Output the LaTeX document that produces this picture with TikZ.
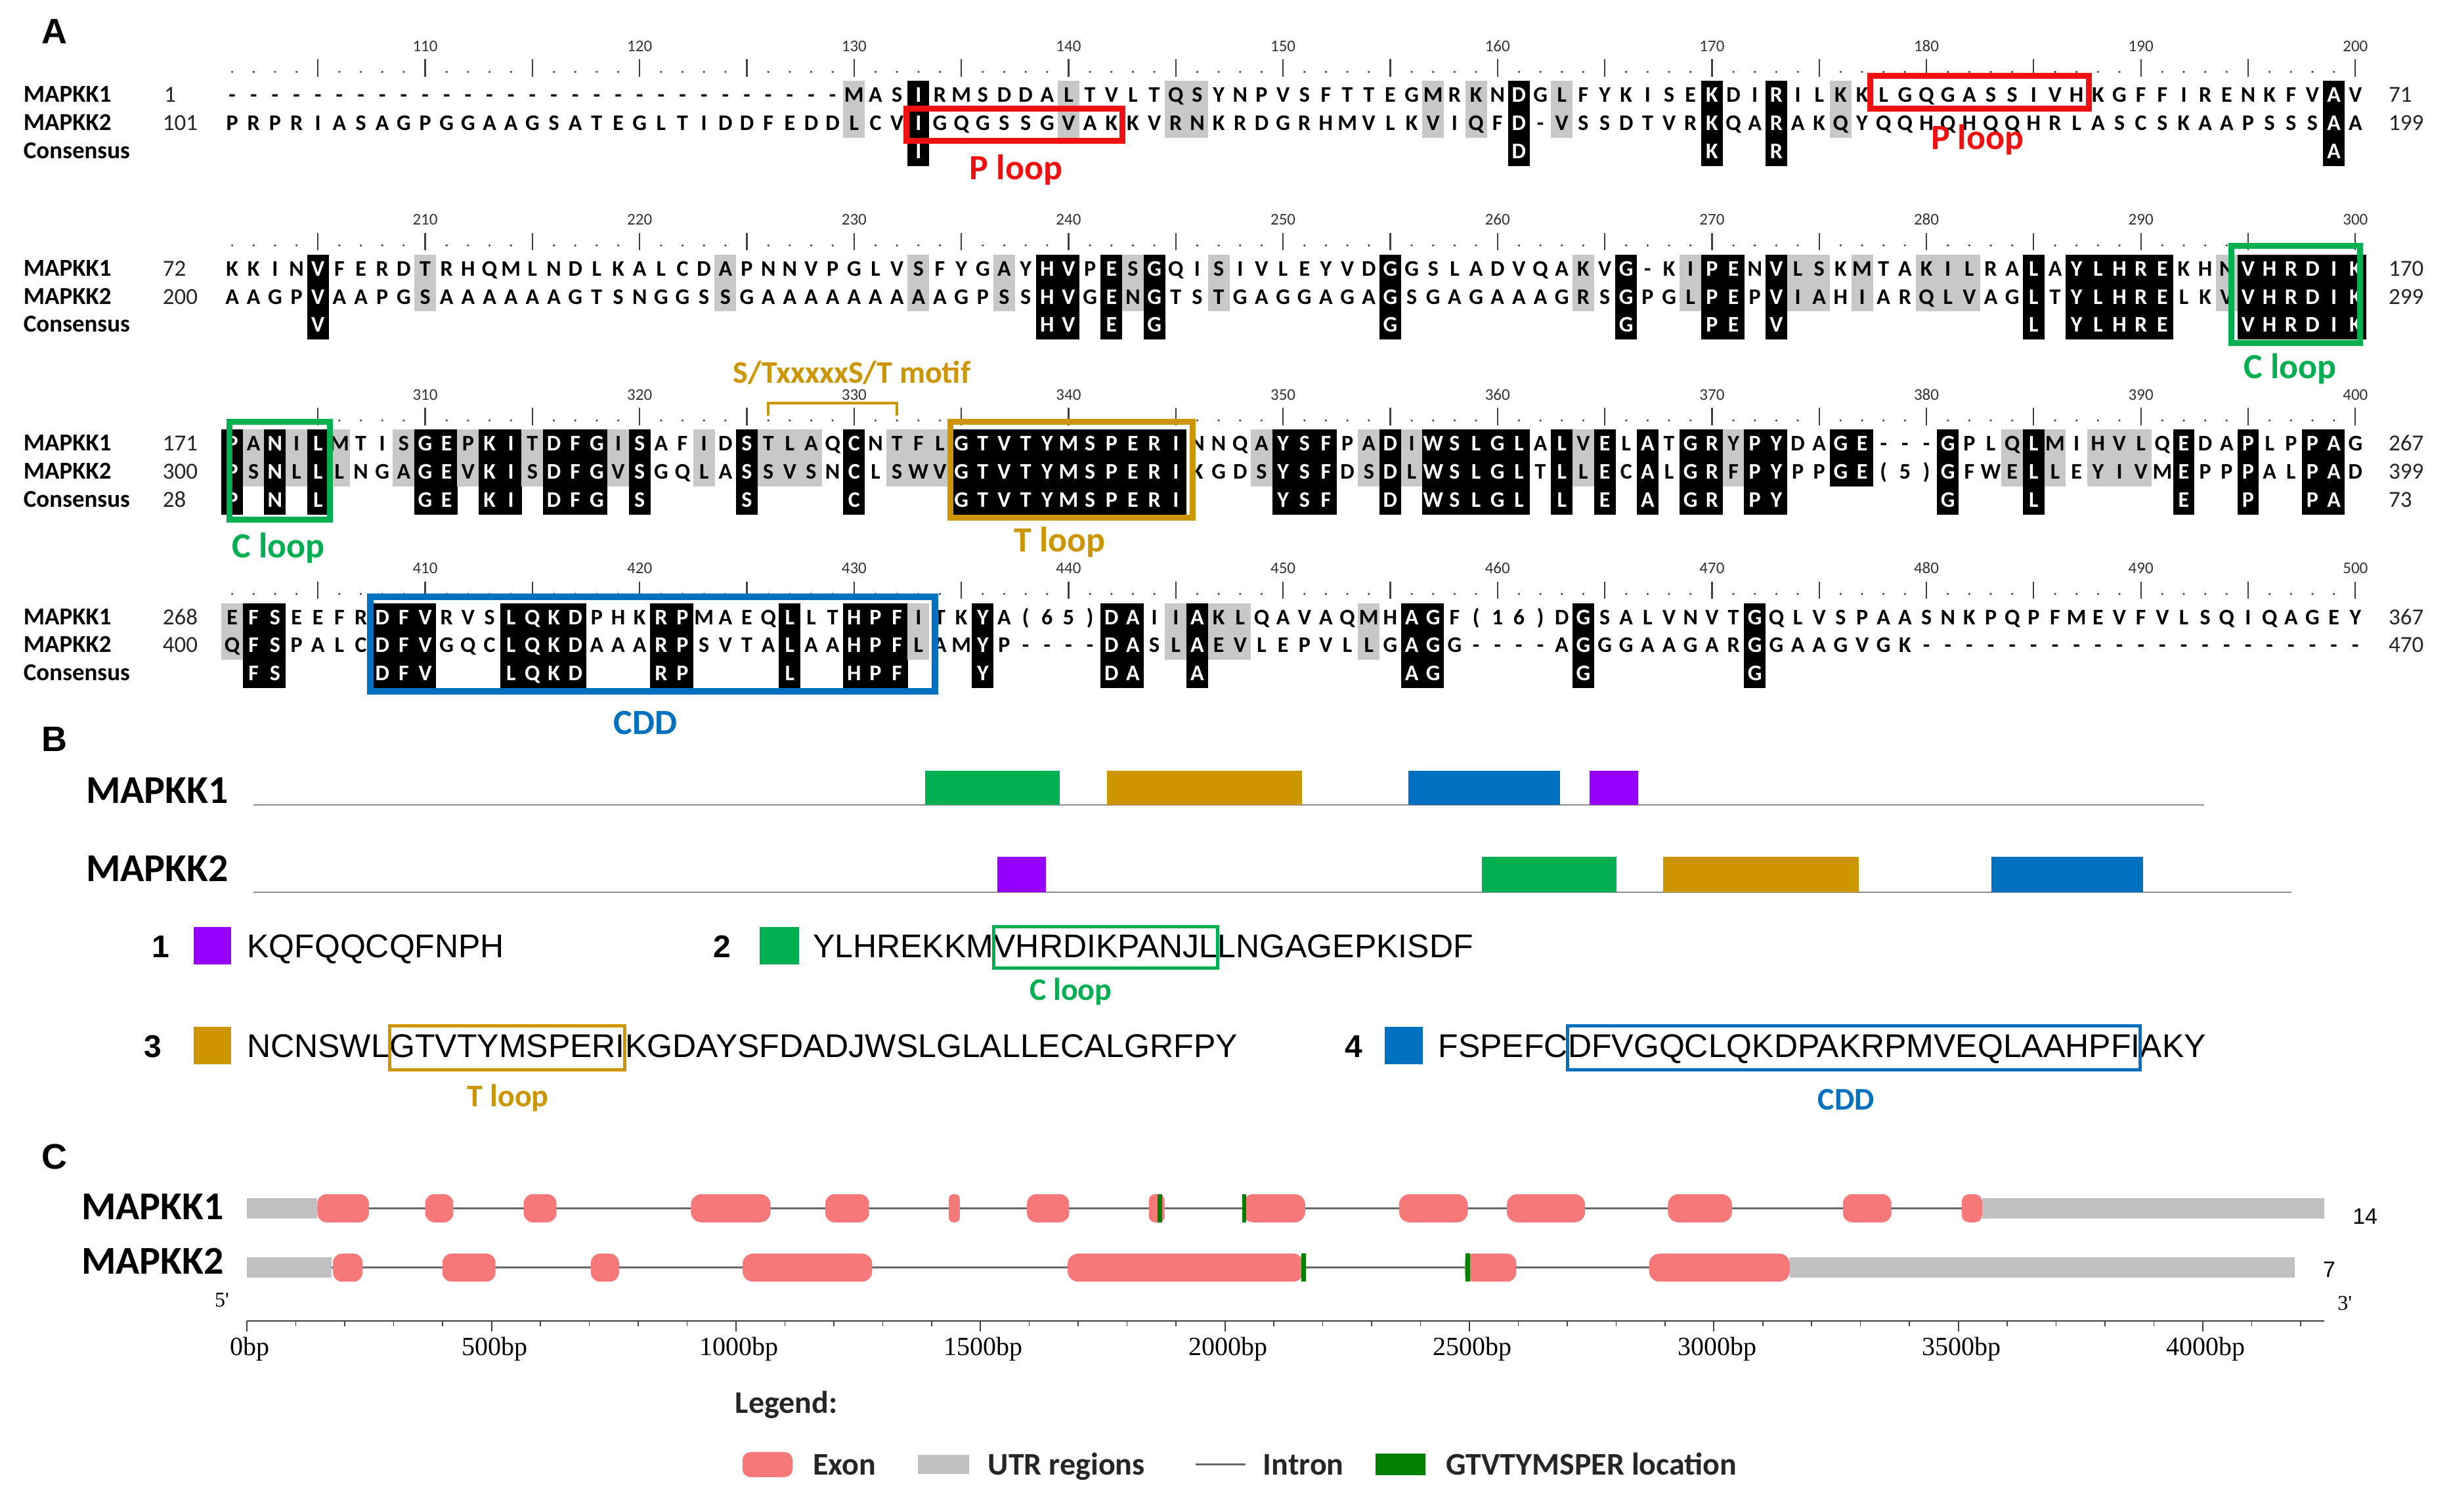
\documentclass[tikz,border=0pt]{standalone}
\usepackage{fontspec}
\setmainfont{Carlito}
\newfontfamily\arialf{Liberation Sans}
\newfontfamily\timesf{Liberation Serif}
\usetikzlibrary{calc}
\definecolor{cred}{RGB}{240,16,16}
\definecolor{cgreen}{RGB}{0,176,80}
\definecolor{corange}{RGB}{205,150,0}
\definecolor{cblue}{RGB}{0,112,192}
\definecolor{cpurple}{RGB}{150,0,255}
\definecolor{alngray}{RGB}{200,200,200}
\definecolor{exonc}{RGB}{246,120,120}
\definecolor{utrc}{RGB}{192,192,192}
\definecolor{gmark}{RGB}{0,128,0}
\definecolor{lineg}{RGB}{105,105,105}

\newcount\colc
\makeatletter
\def\alnTri#1#2\relax#3#4\relax#5#6\relax{%
  \global\advance\colc by 1
  \alnDrawCol{#1}{#3}{#5}%
  \ifnum\colc<100 \expandafter\@firstofone\else\expandafter\@gobble\fi
  {\alnTri#2\relax#4\relax#6\relax}}
\makeatother
\newcommand\alnBlock[3]{\global\colc=0 \alnTri#1**********\relax#2**********\relax#3**********\relax}
\newcommand\alnRes[3]{\if*#1\else\node[res,text=#3] at (\cx,#2+4.5) {#1};\fi}
\newcommand\alnDrawCol[3]{%
  \pgfmathsetmacro\cx{134.8+13.72*\the\colc}%
  \if b#3%
    \fill[black] (\cx-6.9,\ya-9.2) rectangle (\cx+6.9,\yc+9.2);%
    \alnRes{#1}{\ya}{white}\alnRes{#2}{\yb}{white}\alnRes{#1}{\yc}{white}%
  \else\if k#3%
    \fill[black] (\cx-6.9,\ya-9.2) rectangle (\cx+6.9,\yb+9.2);%
    \alnRes{#1}{\ya}{white}\alnRes{#2}{\yb}{white}%
  \else\if g#3%
    \fill[alngray] (\cx-6.9,\ya-9.2) rectangle (\cx+6.9,\yb+9.2);%
    \alnRes{#1}{\ya}{black}\alnRes{#2}{\yb}{black}%
  \else
    \alnRes{#1}{\ya}{black}\alnRes{#2}{\yb}{black}%
  \fi\fi\fi}
\newcommand\alnRuler[2]{%
  \foreach \i in {1,...,100}{%
    \pgfmathsetmacro\cx{134.8+13.72*\i}%
    \pgfmathtruncatemacro\mf{mod(\i,5)}%
    \ifnum\mf=0 \draw[line width=2.2pt,black!75] (\cx,#1-23) -- (\cx,#1-12);%
    \else \fill[black!75] (\cx,#1-15) circle (1.8pt);\fi
    \pgfmathtruncatemacro\mt{mod(\i,10)}%
    \ifnum\mt=0 \pgfmathtruncatemacro\lab{#2+\i}\node[rnum] at (\cx,#1-28) {\lab};\fi}}
\newcommand\exon[3]{\fill[exonc,rounded corners=#3] (#1,\ty-9) rectangle (#2,\ty+9);}
\newcommand\utr[2]{\fill[utrc] (#1,\ty-6.5) rectangle (#2,\ty+6.5);}
\newcommand\gmk[1]{\fill[gmark] (#1-1.3,\ty-9) rectangle (#1+1.3,\ty+9);}

\begin{document}
\begin{tikzpicture}[x=2.381pt,y=-2.381pt,
  res/.style={font=\fontsize{34}{34}\selectfont\bfseries, inner sep=0pt, anchor=base},
  rnum/.style={font=\fontsize{25}{25}\selectfont, text=black!80, inner sep=0pt, anchor=base},
  rowlab/.style={font=\fontsize{37}{37}\selectfont\bfseries, anchor=base west, inner sep=0pt},
  posnum/.style={font=\fontsize{35}{35}\selectfont, text=black!85, anchor=base west, inner sep=0pt},
  panel/.style={font=\arialf\bfseries\fontsize{54}{54}\selectfont, inner sep=0pt},
  annlab/.style={font=\fontsize{54}{54}\selectfont\bfseries, inner sep=0pt, anchor=base},
  abox/.style={line width=9pt},
  mapB/.style={font=\fontsize{60}{60}\selectfont\bfseries, anchor=base west, inner sep=0pt},
  seqB/.style={font=\arialf\fontsize{50}{50}\selectfont, anchor=base west, inner sep=0pt},
  numB/.style={font=\arialf\bfseries\fontsize{48}{48}\selectfont, anchor=base, inner sep=0pt},
  legtxt/.style={font=\fontsize{48}{48}\selectfont\bfseries, text=black!85, anchor=base west, inner sep=0pt},
  axlab/.style={font=\timesf\fontsize{40}{40}\selectfont, inner sep=0pt, anchor=base}]
\useasboundingbox[fill=white] (0,0) rectangle (1568,967);

% ================= A =================
\node[panel] (pA) at (35,20) {A};

% ---- block 1
\def\ya{61}\def\yb{79}\def\yc{97}
\alnRuler{61}{100}
\alnBlock{---------- ---------- ---------M ASIRMSDDAL TVLTQSYNPV SFTTEGMRKN DGLFYKISEK DIRILKKLGQ GASSIVHKGF FIRENKFVAV}%
{PRPRIASAGP GGAAGSATEG LTIDDFEDDL CVIGQGSSGV AKKVRNKRDG RHMVLKVIQF D-VSSDTVRK QARAKQYQQH QHQQHRLASC SKAAPSSSAA}%
{.......... .......... .........g ..b......g ....gg.... ......g.g. b.g......b ..b..g.... .......... ........b.}
\node[rowlab] (l1a) at (15,65.5) {MAPKK1};
\node[rowlab] (l1b) at (15,83.5) {MAPKK2};
\node[rowlab] (l1c) at (15,101.5) {Consensus};
\node[posnum] (n1a) at (105,65.5) {1};
\node[posnum] (n1b) at (104,83.5) {101};
\node[posnum] (e1a) at (1528,65.5) {71};
\node[posnum] (e1b) at (1528,83.5) {199};
\draw[cred,abox] (580,69.5) rectangle (718,90);
\draw[cred,abox] (1196.5,48.5) rectangle (1336.5,69.5);
\node[annlab,text=cred] (pl1) at (650,115) {P loop};
\node[annlab,text=cred] (pl2) at (1265,95.5) {P loop};

% ---- block 2
\def\ya{172}\def\yb{190}\def\yc{208}
\alnRuler{172}{200}
\alnBlock{KKINVFERDT RHQMLNDLKA LCDAPNNVPG LVSFYGAYHV PESGQISIVL EYVDGGSLAD VQAKVG-KIP ENVLSKMTAK ILRALAYLHR EKHNVHRDIK}%
{AAGPVAAPGS AAAAAAGTSN GGSSGAAAAA AAAAGPSSHV GENGTSTGAG GAGAGSGAGA AAGRSGPGLP EPVIAHIARQ LVAGLTYLHR ELKVVHRDIK}%
{....b....g .......... ...g...... ..g...g.bb .bgb..g... ....b..... ...g.b..gb b.bgg.g..g gg..b.bbbb b..gbbbbbb}
\node[rowlab] (l2a) at (15,176.5) {MAPKK1};
\node[rowlab] (l2b) at (15,194.5) {MAPKK2};
\node[rowlab] (l2c) at (15,212.5) {Consensus};
\node[posnum] (n2a) at (104,176.5) {72};
\node[posnum] (n2b) at (104,194.5) {200};
\node[posnum] (e2a) at (1528,176.5) {170};
\node[posnum] (e2b) at (1528,194.5) {299};
\draw[cgreen,abox] (1427.5,157.5) rectangle (1510,219.5);
\node[annlab,text=cgreen] (cl1) at (1465,242) {C loop};

% ---- block 3
\def\ya{284}\def\yb{302}\def\yc{320}
\alnRuler{284}{300}
\alnBlock{PANILMTISG EPKITDFGIS AFIDSTLAQC NTFLGTVTYM SPERINNQAY SFPADIWSLG LALVELATGR YPYDAGE--- GPLQLMIHVL QEDAPLPPAG}%
{PSNLLLNGAG EVKISDFGVS GQLASSVSNC LSWVGTVTYM SPERIKGDSY SFDSDLWSLG LTLLECALGR FPYPPGE(5) GFWELLEYIV MEPPPALPAD}%
{bgbgbg..gb bgbbgbbbgb ..g.bggg.b .gggbbbbbb bbbbb...gb bb.gbgbbbb b.bgb.b.bb gbb..kk... b..gbg.ggg .b..b..bb.}
\node[rowlab] (l3a) at (15,288.5) {MAPKK1};
\node[rowlab] (l3b) at (15,306.5) {MAPKK2};
\node[rowlab] (l3c) at (15,324.5) {Consensus};
\node[posnum] (n3a) at (104,288.5) {171};
\node[posnum] (n3b) at (104,306.5) {300};
\node[posnum] (n3c) at (104,324.5) {28};
\node[posnum] (e3a) at (1528,288.5) {267};
\node[posnum] (e3b) at (1528,306.5) {399};
\node[posnum] (e3c) at (1528,324.5) {73};
\draw[cgreen,abox] (147,270) rectangle (211,332.5);
\node[annlab,text=cgreen] (cl2) at (178,357) {C loop};
\draw[corange,abox] (608,270) rectangle (763,331);
\node[annlab,text=corange] (tl1) at (678,353) {T loop};
\coordinate (brL) at (491.5,266);
\coordinate (brR) at (573.8,266);
\draw[corange,line width=3.5pt] (brL) -- ++(0,-8) -| (brR);
\node[annlab,text=corange,font=\fontsize{48}{48}\selectfont\bfseries] (mot) at (545,245) {S/TxxxxxS/T motif};

% ---- block 4
\def\ya{395}\def\yb{413}\def\yc{431}
\alnRuler{395}{400}
\alnBlock{EFSEEFRDFV RVSLQKDPHK RPMAEQLLTH PFITKYA(65 )DAIIAKLQA VAQMHAGF(1 6)DGSALVNV TGQLVSPAAS NKPQPFMEVF VLSQIQAGEY}%
{QFSPALCDFV GQCLQKDAAA RPSVTALAAH PFLAMYP--- -DASLAEVLE PVLLGAGG-- --AGGGAAGA RGGAAGVGK- ---------- ----------}%
{gbb....bbb ...bbbb... bb....b..b bbg..b.... .bb.gbgg.. ...g.bb... ...b...... .b........ .......... ..........}
\node[rowlab] (l4a) at (15,399.5) {MAPKK1};
\node[rowlab] (l4b) at (15,417.5) {MAPKK2};
\node[rowlab] (l4c) at (15,435.5) {Consensus};
\node[posnum] (n4a) at (104,399.5) {268};
\node[posnum] (n4b) at (104,417.5) {400};
\node[posnum] (e4a) at (1528,399.5) {367};
\node[posnum] (e4b) at (1528,417.5) {470};
\draw[cblue,abox,line width=10pt] (237,382) rectangle (598,442.5);
\node[annlab,text=cblue] (cdd1) at (413,470) {CDD};

% ================= B =================
\node[panel] (pB) at (35,473) {B};
\node[mapB] (bm1) at (55,514) {MAPKK1};
\draw[black!45,line width=2pt] (162,515) -- (1410,515);
\fill[cgreen] (592,493) rectangle (678,515);
\fill[corange] (708,493) rectangle (833,515);
\fill[cblue] (901,493) rectangle (998,515);
\fill[cpurple] (1017,493) rectangle (1048,515);
\node[mapB] (bm2) at (55,564) {MAPKK2};
\draw[black!45,line width=2pt] (162,571) -- (1466,571);
\fill[cpurple] (638,548) rectangle (669,571);
\fill[cgreen] (948,548) rectangle (1034,571);
\fill[corange] (1064,548) rectangle (1189,571);
\fill[cblue] (1274,548) rectangle (1371,571);

\coordinate (ytA) at (0,593);
\coordinate (ybA) at (0,619.5);
\coordinate (ytB) at (0,656.5);
\coordinate (ybB) at (0,684.5);

\node[numB] (k1) at (103,612.5) {1};
\fill[cpurple] (124,593) rectangle (148,617);
\node[seqB] (s1) at (158,612.5) {KQFQQCQFNPH};

\node[numB] (k2) at (462,612.5) {2};
\fill[cgreen] (486,593) rectangle (511,617);
\node[seqB] (s2a) at (520,612.5) {YLHREKKM};
\node[seqB] (s2b) at (s2a.base east) {VHRDIKPANJL};
\node[seqB] (s2c) at (s2b.base east) {LNGAGEPKISDF};
\draw[cgreen,line width=5pt] (s2b.west |- ytA) rectangle (s2b.east |- ybA);
\node[annlab,text=cgreen,font=\fontsize{48}{48}\selectfont\bfseries] (cl3) at (685,640) {C loop};

\node[numB] (k3) at (98,676.5) {3};
\fill[corange] (124,657) rectangle (148,681);
\node[seqB] (s3a) at (158,676.5) {NCNSWL};
\node[seqB] (s3b) at (s3a.base east) {GTVTYMSPERI};
\node[seqB] (s3c) at (s3b.base east) {KGDAYSFDADJWSLGLALLECALGRFPY};
\draw[corange,line width=5pt] (s3b.west |- ytB) rectangle (s3b.east |- ybB);
\node[annlab,text=corange,font=\fontsize{48}{48}\selectfont\bfseries] (tl2) at (325,708) {T loop};

\node[numB] (k4) at (866,676.5) {4};
\fill[cblue] (886,657) rectangle (910,681);
\node[seqB] (s4a) at (920,676.5) {FSPEFC};
\node[seqB] (s4b) at (s4a.base east) {DFVGQCLQKDPAKRPMVEQLAAHPFI};
\node[seqB] (s4c) at (s4b.base east) {AKY};
\draw[cblue,line width=5pt] (s4b.west |- ytB) rectangle (s4b.east |- ybB);
\node[annlab,text=cblue,font=\fontsize{48}{48}\selectfont\bfseries] (cdd2) at (1181,710) {CDD};

% ================= C =================
\node[panel] (pC) at (35,740) {C};
\node[mapB] (cm1) at (52,780) {MAPKK1};
\node[mapB] (cm2) at (52,815) {MAPKK2};

\def\ty{773}
\draw[lineg,line width=3pt] (158,773) -- (1487,773);
\utr{158}{203}\utr{1268}{1487}
\exon{203}{236}{14pt}\exon{272}{290}{14pt}\exon{335}{356}{14pt}\exon{442}{493}{16pt}
\exon{528}{556}{14pt}\exon{607}{614}{7pt}\exon{657}{684}{14pt}\exon{735}{745}{9pt}
\exon{795}{835}{16pt}\exon{895}{939}{16pt}\exon{964}{1014}{16pt}\exon{1067}{1108}{16pt}
\exon{1179}{1210}{14pt}\exon{1255}{1268}{11pt}
\gmk{742}\gmk{796}
\node[font=\arialf\fontsize{34}{34}\selectfont, anchor=base west, inner sep=0pt] (c14) at (1505,783) {14};

\def\ty{811}
\draw[lineg,line width=3pt] (158,811) -- (1468,811);
\utr{158}{212}\utr{1145}{1468}
\exon{213}{232}{14pt}\exon{283}{317}{14pt}\exon{378}{396}{14pt}\exon{475}{558}{16pt}
\exon{683}{834}{16pt}\exon{937}{970}{14pt}\exon{1055}{1145}{16pt}
\gmk{834}\gmk{939}
\node[font=\arialf\fontsize{34}{34}\selectfont, anchor=base west, inner sep=0pt] (c7) at (1486,817) {7};

\node[axlab,font=\timesf\fontsize{32}{32}\selectfont] (p5) at (142,836) {5'};
\node[axlab,font=\timesf\fontsize{32}{32}\selectfont] (p3) at (1500,838) {3'};
\coordinate (ax0) at (158,845);
\coordinate (ax1) at (1487,845);
\draw[black!75,line width=2pt] (ax0) -- (ax1);
\foreach \k in {0,...,42}{\draw[black!75,line width=1.5pt] (158+31.28*\k,845) -- (158+31.28*\k,848.5);}
\foreach \k in {0,...,8}{%
  \pgfmathtruncatemacro\bp{500*\k}%
  \draw[black!75,line width=2pt] (158+156.4*\k,845) -- (158+156.4*\k,852);
  \node[axlab] (ax\k) at (158+156.4*\k+2,867) {\bp bp};}

% legend
\node[font=\fontsize{48}{48}\selectfont\bfseries, text=black!85, anchor=base, inner sep=0pt] (leg) at (503,904) {Legend:};
\fill[exonc,rounded corners=12pt] (475,929) rectangle (507,945);
\node[legtxt] (lg1) at (520,943.5) {Exon};
\fill[utrc] (587,931) rectangle (620,943);
\node[legtxt] (lg2) at (632,943.5) {UTR regions};
\draw[lineg,line width=3pt] (765,937) -- (797,937);
\node[legtxt] (lg3) at (808,943.5) {Intron};
\fill[gmark] (880,930) rectangle (912,944);
\node[legtxt] (lg4) at (925,943.5) {GTVTYMSPER location};
\end{tikzpicture}
\end{document}
